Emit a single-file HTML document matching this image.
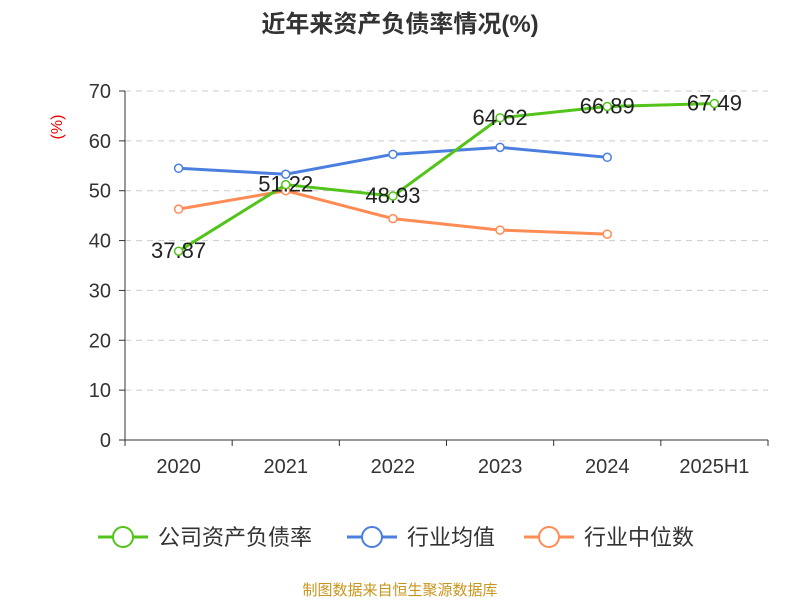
<!DOCTYPE html>
<html><head><meta charset="utf-8"><style>
body{margin:0;background:#fff;}
svg{display:block;font-family:"Liberation Sans","Noto Sans CJK SC",sans-serif;}
</style></head><body>
<svg id="chart" width="800" height="600">
<text x="400" y="32" text-anchor="middle" font-size="24" font-weight="bold" fill="#333">近年来资产负债率情况(%)</text>
<text x="62" y="127" text-anchor="middle" font-size="16" fill="#e00" transform="rotate(-90 62 127)">(%)</text>
<g id="grid"></g><g id="axes"></g><g id="series"></g>
<g>
<g><line x1="98" y1="537" x2="148" y2="537" stroke="#52c41a" stroke-width="3"/><circle cx="123" cy="537" r="10" fill="#fff" stroke="#52c41a" stroke-width="2"/><text x="158" y="545" font-size="22" fill="#333">公司资产负债率</text></g>
<g><line x1="347" y1="537" x2="397" y2="537" stroke="#4a7fe0" stroke-width="3"/><circle cx="372" cy="537" r="10" fill="#fff" stroke="#4a7fe0" stroke-width="2"/><text x="407" y="545" font-size="22" fill="#333">行业均值</text></g>
<g><line x1="524" y1="537" x2="574" y2="537" stroke="#ff8c55" stroke-width="3"/><circle cx="549" cy="537" r="10" fill="#fff" stroke="#ff8c55" stroke-width="2"/><text x="584" y="545" font-size="22" fill="#333">行业中位数</text></g>
</g>
<text x="400" y="595" text-anchor="middle" font-size="15" fill="#c8961e">制图数据来自恒生聚源数据库</text>
</svg>
<script>
const categories=["2020","2021","2022","2023","2024","2025H1"];
const companyValues=[37.87,51.22,48.93,64.62,66.89,67.49];
const companyLabels=["37.87","51.22","48.93","64.62","66.89","67.49"];
const meanValues=[54.5,53.3,57.3,58.7,56.7];
const medianValues=[46.3,50.0,44.4,42.1,41.3];
const yTicks=[0,10,20,30,40,50,60,70];
const NS="http://www.w3.org/2000/svg";
const X0=125,X1=768,Y0=440,Y1=91,YMAX=70;
const bw=(X1-X0)/categories.length;
const xs=i=>X0+bw*(i+0.5);
const ys=v=>Y0-(Y0-Y1)*v/YMAX;
function mk(tag,attrs,parent,txt){const e=document.createElementNS(NS,tag);for(const k in attrs)e.setAttribute(k,attrs[k]);if(txt!==undefined)e.textContent=txt;parent.appendChild(e);return e;}
const grid=document.getElementById('grid'),axes=document.getElementById('axes'),ser=document.getElementById('series');
yTicks.forEach(t=>{
 if(t>0){const g=mk('line',{x1:X0,x2:X1,y1:ys(t),y2:ys(t),stroke:'#ccc','stroke-dasharray':'6,5'},grid);
 
 }
 const tk=mk('line',{x1:X0-6,x2:X0,y1:ys(t),y2:ys(t),stroke:'#333'},axes);
 
 
 const l=mk('text',{x:X0-14,y:ys(t)+7,'text-anchor':'end','font-size':20,fill:'#333'},axes,t);
 
 
});
const ya=mk('line',{x1:X0,x2:X0,y1:Y1,y2:Y0,stroke:'#333'},axes);


const xa=mk('line',{x1:X0,x2:X1,y1:Y0,y2:Y0,stroke:'#333'},axes);


for(let i=0;i<=categories.length;i++){const t=mk('line',{x1:X0+bw*i,x2:X0+bw*i,y1:Y0,y2:Y0+6,stroke:'#333'},axes);
 
 }
categories.forEach((c,i)=>{const l=mk('text',{x:xs(i),y:473,'text-anchor':'middle','font-size':20,fill:'#333'},axes,c);
 
 });
function series(vals,color,name){
 const p=mk('polyline',{points:vals.map((v,i)=>xs(i)+','+ys(v)).join(' '),fill:'none',stroke:color,'stroke-width':3},ser);
 
 
 vals.forEach((v,i)=>{const c=mk('circle',{cx:xs(i),cy:ys(v),r:4,fill:'#fff',stroke:color,'stroke-width':1.5},ser);
 
 });
}
series(medianValues,'#ff8c55','industry-median');
series(meanValues,'#4a7fe0','industry-mean');
series(companyValues,'#52c41a','company');
companyValues.forEach((v,i)=>{const t=mk('text',{x:xs(i),y:ys(v)+7,'text-anchor':'middle','font-size':22,fill:'#222'},ser,companyLabels[i]);
 
 });
</script>
</body></html>
